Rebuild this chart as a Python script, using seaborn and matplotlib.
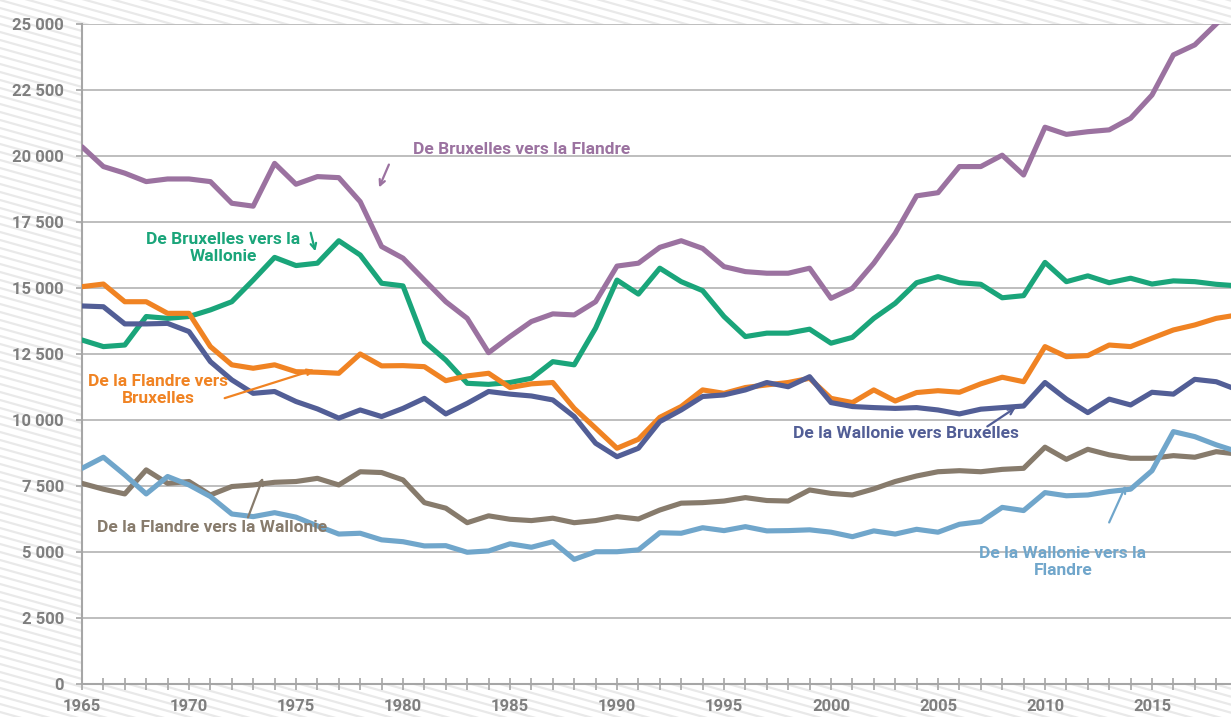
import numpy as np
import pandas as pd
import matplotlib
matplotlib.use("Agg")
import matplotlib.pyplot as plt
from matplotlib.ticker import MultipleLocator, FuncFormatter
import seaborn as sns

# Migration flows between the regions (persons per year)
years = list(range(1965, 2020))

bxl_to_fla = [20350, 19600, 19350, 19030, 19130, 19130, 19030, 18210, 18100, 19720,
              18930, 19220, 19180, 18270, 16570, 16130, 15300, 14480, 13850, 12550,
              13160, 13730, 14020, 13980, 14480, 15830, 15940, 16540, 16790, 16500,
              15810, 15620, 15560, 15560, 15750, 14610, 14990, 15940, 17070, 18490,
              18610, 19600, 19600, 20030, 19280, 21090, 20820, 20920, 20990, 21430,
              22310, 23830, 24210, 25000, 25800]
bxl_to_wal = [13030, 12780, 12840, 13920, 13850, 13920, 14170, 14480, 15300, 16160,
              15850, 15940, 16790, 16250, 15180, 15080, 12970, 12270, 11390, 11350,
              11420, 11580, 12210, 12090, 13480, 15300, 14770, 15750, 15240, 14900,
              13920, 13160, 13290, 13290, 13440, 12910, 13130, 13850, 14420, 15200,
              15430, 15200, 15140, 14630, 14710, 15970, 15240, 15460, 15200, 15370,
              15150, 15270, 15240, 15140, 15080]
fla_to_bxl = [15050, 15150, 14480, 14480, 14040, 14040, 12780, 12090, 11960, 12090,
              11830, 11810, 11770, 12500, 12050, 12060, 12020, 11490, 11670, 11770,
              11230, 11370, 11420, 10440, 9690, 8930, 9270, 10100, 10510, 11140,
              11010, 11230, 11330, 11420, 11580, 10820, 10660, 11140, 10720, 11040,
              11110, 11050, 11370, 11620, 11450, 12780, 12400, 12440, 12840, 12780,
              13100, 13410, 13600, 13850, 13980]
wal_to_bxl = [14320, 14290, 13640, 13640, 13660, 13350, 12210, 11520, 11010, 11080,
              10700, 10420, 10070, 10380, 10130, 10440, 10820, 10230, 10630, 11080,
              10980, 10910, 10760, 10130, 9120, 8610, 8930, 9940, 10380, 10890,
              10950, 11140, 11420, 11260, 11640, 10660, 10510, 10470, 10440, 10470,
              10380, 10230, 10410, 10470, 10530, 11420, 10790, 10280, 10790, 10570,
              11050, 10980, 11540, 11450, 11140]
fla_to_wal = [7600, 7380, 7200, 8110, 7600, 7670, 7160, 7480, 7540, 7640,
              7670, 7790, 7540, 8040, 8010, 7730, 6870, 6660, 6110, 6370,
              6240, 6190, 6280, 6110, 6190, 6340, 6250, 6590, 6850, 6870,
              6930, 7060, 6950, 6930, 7350, 7220, 7160, 7390, 7670, 7880,
              8040, 8080, 8040, 8130, 8170, 8970, 8510, 8890, 8680, 8550,
              8550, 8650, 8590, 8800, 8710]
wal_to_fla = [8170, 8590, 7920, 7200, 7860, 7540, 7100, 6440, 6340, 6490,
              6320, 5990, 5680, 5710, 5460, 5390, 5230, 5240, 4990, 5040,
              5310, 5180, 5390, 4720, 5010, 5010, 5080, 5730, 5710, 5920,
              5810, 5960, 5800, 5810, 5840, 5750, 5580, 5800, 5680, 5860,
              5750, 6050, 6150, 6690, 6570, 7250, 7130, 7160, 7290, 7380,
              8080, 9560, 9370, 9060, 8800]

series_names = ["De Bruxelles vers la Flandre", "De Bruxelles vers la Wallonie",
                "De la Flandre vers Bruxelles", "De la Wallonie vers Bruxelles",
                "De la Flandre vers la Wallonie", "De la Wallonie vers la Flandre"]
series_values = [bxl_to_fla, bxl_to_wal, fla_to_bxl, wal_to_bxl, fla_to_wal, wal_to_fla]
colors = ["#9b72a0", "#1aa57a", "#f08323", "#525e96", "#877b6c", "#70a6cb"]

df = pd.concat([pd.DataFrame({"Année": years, "Flux": v, "Série": n})
                for n, v in zip(series_names, series_values)], ignore_index=True)

sns.set_style("white")
plt.rcParams["font.family"] = ["Roboto", "DejaVu Sans"]
plt.rcParams["font.weight"] = "bold"

W, H = 1231, 717
fig = plt.figure(figsize=(W / 100, H / 100), dpi=100)

# Striped background behind everything
bg = fig.add_axes([0, 0, 1, 1], zorder=0)
bg.set_xlim(0, W)
bg.set_ylim(H, 0)
bg.axis("off")
for c in np.arange(-360, H + 10, 8):
    bg.plot([0, W], [c, c + 0.28 * W], color="#e9e9e9", lw=1.6)

# Main plot area
x_px_per_year = 21.4
left_px, top_px, bottom_px = 82, 24, 684
ax = fig.add_axes([left_px / W, 1 - bottom_px / H, 1 - left_px / W, (bottom_px - top_px) / H], zorder=1)
ax.set_facecolor("white")

sns.lineplot(data=df, x="Année", y="Flux", hue="Série", hue_order=series_names,
             palette=colors, linewidth=3.7, legend=False, ax=ax, zorder=3)

ax.set_xlim(1965, 1965 + (W - left_px) / x_px_per_year)
ax.set_ylim(0, 25000)
ax.set_xlabel("")
ax.set_ylabel("")

for s in ["top", "right"]:
    ax.spines[s].set_visible(False)
for s in ["left", "bottom"]:
    ax.spines[s].set_color("#a6a6a6")
    ax.spines[s].set_linewidth(1.5)

ax.yaxis.set_major_locator(MultipleLocator(2500))
ax.yaxis.set_major_formatter(FuncFormatter(lambda v, p: f"{int(v):,}".replace(",", " ")))
ax.yaxis.grid(True, color="#b3b3b3", lw=1.2)
ax.set_axisbelow(True)

ax.xaxis.set_major_locator(MultipleLocator(5))
ax.xaxis.set_minor_locator(MultipleLocator(1))
ax.xaxis.set_major_formatter(FuncFormatter(lambda v, p: f"{int(v)}"))

ax.tick_params(axis="y", direction="out", length=4, width=1.2, color="#a6a6a6",
               labelsize=12, labelcolor="#7f7f7f", pad=9, left=True)
ax.tick_params(axis="x", which="both", direction="inout", length=9, width=1.2,
               color="#a6a6a6", labelsize=12, labelcolor="#7f7f7f", pad=6, bottom=True)
for lab in ax.get_xticklabels() + ax.get_yticklabels():
    lab.set_fontweight("bold")


def px(x, y):
    return 1965 + (x - left_px) / x_px_per_year, (bottom_px - y) / 26.4 * 1000


labels = [
    ("De Bruxelles vers la Flandre", colors[0], (522, 149), (390, 162), (378, 190), False),
    ("De Bruxelles vers la\nWallonie", colors[1], (223, 248), (310, 230), (316, 254), False),
    ("De la Flandre vers\nBruxelles", colors[2], (158, 390), (222, 399), (317, 369), False),
    ("De la Wallonie vers Bruxelles", colors[3], (906, 433), (985, 428), (1018, 406), True),
    ("De la Flandre vers la Wallonie", colors[4], (212, 527), (247, 520), (264, 475), False),
    ("De la Wallonie vers la\nFlandre", colors[5], (1063, 562), (1108, 525), (1127, 483), False),
]
for text, col, tpos, a0, a1, boxed in labels:
    tx, ty = px(*tpos)
    kw = {}
    if boxed:
        kw["bbox"] = dict(facecolor="white", edgecolor="none", pad=1)
    ax.text(tx, ty, text, color=col, fontsize=12.5, fontweight="bold", ha="center",
            va="center", linespacing=1.15, zorder=4, **kw)
    ax.annotate("", xy=px(*a1), xytext=px(*a0),
                arrowprops=dict(arrowstyle="->", color=col, lw=1.6), zorder=5)

fig.savefig("out.png", dpi=100)
